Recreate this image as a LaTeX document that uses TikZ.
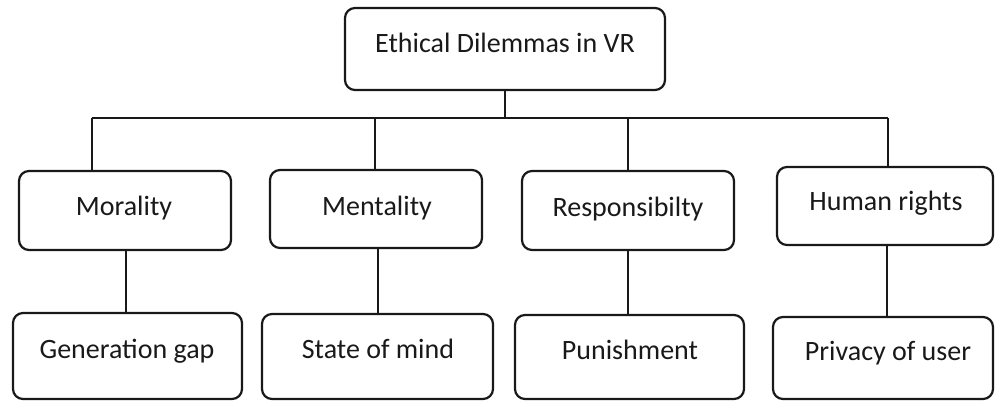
\documentclass[tikz,border=0pt]{standalone}
\usepackage{fontspec}
\setmainfont{Carlito}
\begin{document}
\begin{tikzpicture}[x=1pt,y=-1pt,
  box/.style={draw=black!90, line width=2.2pt, rounded corners=10pt, fill=white},
  lbl/.style={anchor=base, inner sep=0pt, text=black!90,
    font=\fontsize{28}{33}\selectfont},
  link/.style={draw=black!90, line width=1.6pt}]
\useasboundingbox (0,0) rectangle (995,401);
\fill[white] (0,0) rectangle (995,401);

% boxes: name, left, top, right, bottom
\newcommand{\boxat}[5]{%
  \node[box, minimum width={(#4-#2)*1pt}, minimum height={(#5-#3)*1pt}, inner sep=0pt]
    (#1) at ({(#2+#4)/2},{(#3+#5)/2}) {};}
\boxat{root}{345}{8}{665}{90}
\boxat{mor}{19}{171}{231}{250}
\boxat{men}{270}{170}{482}{248}
\boxat{res}{522}{171}{734}{250}
\boxat{hum}{777}{167}{993}{245}
\boxat{gen}{13}{313}{242}{399}
\boxat{sta}{262}{314}{493}{399}
\boxat{pun}{515}{315}{744}{399}
\boxat{pri}{773}{317}{993}{399}

% labels
\node[lbl] (troot) at (505,53) {Ethical Dilemmas in VR};
\node[lbl] (tmor) at (124,215) {Morality};
\node[lbl] (tmen) at (377,215) {Mentality};
\node[lbl] (tres) at (628,216) {Responsibilty};
\node[lbl] (thum) at (886,210) {Human rights};
\node[lbl] (tgen) at (127,358) {Generation gap};
\node[lbl] (tsta) at (378,358) {State of mind};
\node[lbl] (tpun) at (630,359) {Punishment};
\node[lbl] (tpri) at (888,360) {Privacy of user};

% bus below the root
\coordinate (bus) at (505,118);
\coordinate (d1) at (92,118);
\coordinate (d2) at (375,118);
\coordinate (d3) at (628,118);
\coordinate (d4) at (888,118);
\draw[link] (root.south -| bus) -- (bus);
\draw[link] (d1) -- (d4);
\draw[link] (d1) -- (mor.north -| d1);
\draw[link] (d2) -- (men.north -| d2);
\draw[link] (d3) -- (res.north -| d3);
\draw[link] (d4) -- (hum.north -| d4);

% second level to third level
\coordinate (c1) at (126,0);
\coordinate (c2) at (378,0);
\coordinate (c3) at (628,0);
\coordinate (c4) at (887,0);
\draw[link] (mor.south -| c1) -- (gen.north -| c1);
\draw[link] (men.south -| c2) -- (sta.north -| c2);
\draw[link] (res.south -| c3) -- (pun.north -| c3);
\draw[link] (hum.south -| c4) -- (pri.north -| c4);
\end{tikzpicture}
\end{document}
